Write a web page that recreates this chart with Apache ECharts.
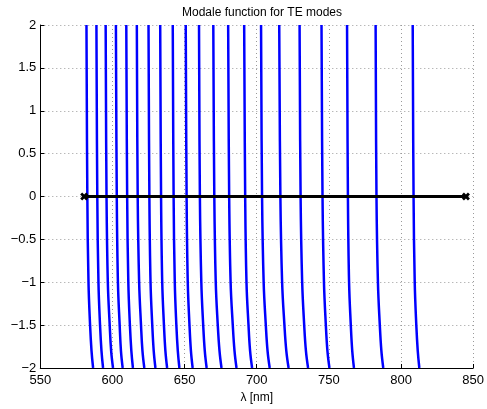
<!DOCTYPE html>
<html>
<head>
<meta charset="utf-8">
<script src="https://cdn.jsdelivr.net/npm/echarts@6/dist/echarts.min.js"></script>
<style>html,body{margin:0;padding:0;background:#fff;}#c{width:487px;height:409px;}</style>
</head>
<body>
<div id="c"></div>
<script>
// y levels at which each branch's wavelength was read
var yLevels = [2, 0, -1, -1.5, -1.8, -2];
// wavelength (nm) of each branch at the y levels above
var branch01 = [582.0, 582.6, 583.4, 584.5, 585.5, 586.6];
var branch02 = [588.9, 589.5, 590.3, 591.4, 592.4, 593.5];
var branch03 = [595.3, 595.9, 596.8, 598.1, 599.1, 600.4];
var branch04 = [602.4, 603.0, 603.8, 605.0, 605.9, 607.1];
var branch05 = [609.6, 610.2, 611.0, 612.1, 613.1, 614.2];
var branch06 = [616.9, 617.5, 618.5, 619.8, 620.8, 622.1];
var branch07 = [625.0, 625.6, 626.4, 627.6, 628.6, 629.8];
var branch08 = [633.1, 633.7, 634.5, 635.7, 636.7, 637.9];
var branch09 = [641.8, 642.4, 643.2, 644.3, 645.3, 646.4];
var branch10 = [650.8, 651.4, 652.2, 653.4, 654.4, 655.6];
var branch11 = [660.0, 660.6, 661.6, 662.9, 664.0, 665.3];
var branch12 = [669.9, 670.6, 671.6, 673.0, 674.2, 675.6];
var branch13 = [680.2, 680.9, 681.9, 683.4, 684.6, 686.0];
var branch14 = [691.3, 692.0, 692.9, 694.3, 695.4, 696.8];
var branch15 = [703.0, 703.7, 704.8, 706.3, 707.5, 709.0];
var branch16 = [715.6, 716.4, 717.6, 719.2, 720.5, 722.1];
var branch17 = [729.7, 730.4, 731.5, 732.9, 734.1, 735.6];
var branch18 = [744.9, 745.6, 746.6, 747.9, 749.0, 750.4];
var branch19 = [762.6, 763.2, 764.0, 765.2, 766.2, 767.4];
var branch20 = [782.4, 783.0, 784.0, 785.3, 786.4, 787.7];
var branch21 = [808.1, 808.7, 809.5, 810.6, 811.6, 812.7];
var branches = [branch01, branch02, branch03, branch04, branch05, branch06, branch07,
  branch08, branch09, branch10, branch11, branch12, branch13, branch14, branch15,
  branch16, branch17, branch18, branch19, branch20, branch21];
// black zero line endpoints
var zeroLineX = [580.4, 845.0];
var zeroLineY = [0, 0];

var FONT = "'Liberation Sans', Arial, Helvetica, sans-serif";
var chart = echarts.init(document.getElementById('c'), null, {renderer: 'canvas'});

var series = branches.map(function (b) {
  return {
    type: 'line',
    data: b.map(function (x, i) { return [x, yLevels[i]]; }),
    smooth: 0.4,
    showSymbol: false,
    symbol: 'none',
    lineStyle: {color: '#0000ff', width: 2.5},
    clip: true,
    silent: true,
    z: 2
  };
});
series.push({
  type: 'line',
  data: zeroLineX.map(function (x, i) { return [x, zeroLineY[i]]; }),
  symbol: 'path://M0,2.5L2.5,0L5,2.5L7.5,0L10,2.5L7.5,5L10,7.5L7.5,10L5,7.5L2.5,10L0,7.5L2.5,5Z',
  symbolSize: 8,
  showSymbol: true,
  itemStyle: {color: '#000'},
  lineStyle: {color: '#000', width: 3},
  clip: false,
  silent: true,
  z: 5
});

chart.setOption({
  animation: false,
  backgroundColor: '#fff',
  title: {
    text: 'Modale function for TE modes',
    left: 257, top: 2, textAlign: 'center',
    textStyle: {fontFamily: FONT, fontSize: 12, fontWeight: 'normal', color: '#000'}
  },
  grid: {left: 40.3, right: 12, top: 25, bottom: 41, containLabel: false},
  xAxis: {
    type: 'value', min: 550, max: 850, interval: 50,
    name: 'λ [nm]', nameLocation: 'middle', nameGap: 23,
    nameTextStyle: {fontFamily: FONT, fontSize: 12, color: '#000'},
    axisLine: {onZero: false, lineStyle: {color: '#000', width: 1}},
    axisTick: {inside: true, length: 4, lineStyle: {color: '#000'}},
    axisLabel: {fontFamily: FONT, fontSize: 13, color: '#000', margin: 6},
    splitLine: {show: true, lineStyle: {color: '#9a9a9a', type: [1, 3], width: 1}}
  },
  yAxis: {
    type: 'value', min: -2, max: 2, interval: 0.5,
    axisLine: {onZero: false, lineStyle: {color: '#000', width: 1}},
    axisTick: {inside: true, length: 4, lineStyle: {color: '#000'}},
    axisLabel: {fontFamily: FONT, fontSize: 13, color: '#000', margin: 4,
      formatter: function (v) { return String(v).replace('-', '\u2212'); }},
    splitLine: {show: true, lineStyle: {color: '#9a9a9a', type: [1, 3], width: 1}}
  },
  series: series
});
</script>
</body>
</html>
